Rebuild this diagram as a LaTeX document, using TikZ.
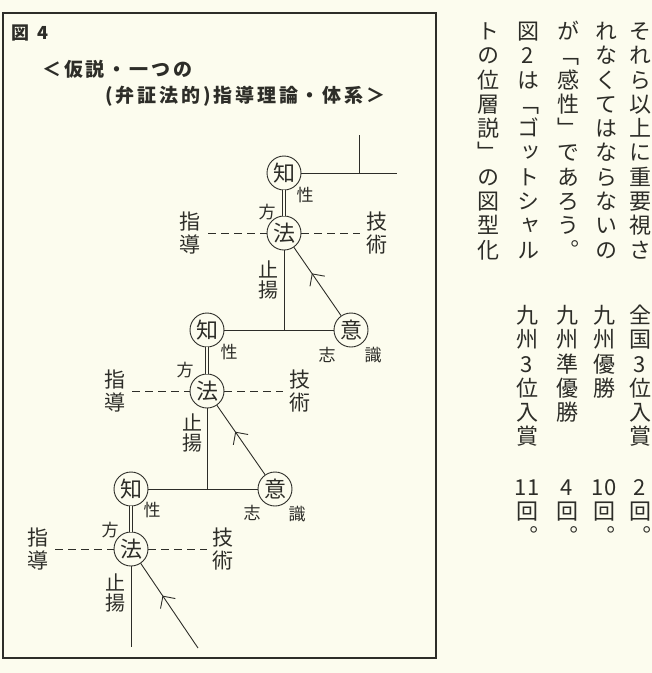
\documentclass[tikz,border=0pt]{standalone}
\usepackage{fontspec}
\usetikzlibrary{arrows.meta,decorations.markings}
\newfontfamily\jp{Noto Sans CJK JP}
\newfontfamily\tatefont[RawFeature=+vert]{Noto Sans CJK JP}
\definecolor{paper}{RGB}{252,252,238}
\definecolor{ink}{RGB}{45,45,40}
\def\tatecol(#1)(#2,#3)#4{\foreach \ch [count=\k] in {#4} \node[tatechar] (#1-\k) at (#2,{#3+(\k-1)*24.3}) {\ch};}

\begin{document}
\begin{tikzpicture}[x=1pt,y=-1pt,
	chibox/.style={circle,draw=ink,line width=0.9pt,minimum size=34pt,inner sep=0pt,text=ink,font=\jp\fontsize{22}{22}\selectfont},
	lbl/.style={align=center,inner sep=0pt,text=ink,font=\jp\fontsize{21}{23}\selectfont},
	shiyo/.style={align=center,inner sep=0pt,text=ink,font=\jp\fontsize{20}{20}\selectfont},
	sm/.style={inner sep=0pt,text=ink,font=\jp\fontsize{17}{17}\selectfont},
	titletext/.style={inner sep=0pt,text=ink,font=\jp\bfseries\fontsize{19}{19}\selectfont\addfontfeatures{LetterSpace=15}},
	tatechar/.style={inner sep=0pt,text height=19.4pt,text depth=2.6pt,text=ink,font=\tatefont\fontsize{22}{22}\selectfont},
	link/.style={draw=ink,line width=0.9pt},
	kato/.style={dash pattern=on 8pt off 5pt},
	dbl/.style={double=paper,double distance=2.6pt},
	upchev/.style={postaction={decorate},decoration={markings,mark=at position 0.62 with {\arrow[ink,line width=0.9pt]{Straight Barb[length=9pt,width=18pt]}}}}]
	%%%%% START %%%%%
	\useasboundingbox (0,0) rectangle (652,673);
	\fill[paper] (0,0) rectangle (652,673);
	
	\draw[ink,line width=1.2pt] (3,13) rectangle (436,658);
	
	\node[inner sep=0pt,text=ink,font=\jp\bfseries\fontsize{18}{18}\selectfont,anchor=west] (fignum) at (11,33) {図\hspace{8pt}4};
	\node[titletext,anchor=west] (title1) at (42,69) {＜仮説・一つの};
	\node[titletext,anchor=west] (title2) at (105,96) {(弁証法的)指導理論・体系＞};
	
	% top level
	\node[chibox] (chi1) at (284,173) {知};
	\node[chibox] (hou1) at (284,233) {法};
	\coordinate (top1) at (397,173);
	\coordinate (stem1) at (359,135);
	\coordinate (stem1b) at (359,173);
	\draw[link] (chi1) -- (top1);
	\draw[link] (stem1) -- (stem1b);
	\draw[link,dbl] (chi1) -- (hou1);
	\node[sm] (sei1) at (305,195) {性};
	\node[sm] (kata1) at (267,212) {方};
	\node[lbl] (shido1) at (190,233) {指\\導};
	\node[lbl] (giju1) at (377,233) {技\\術};
	\draw[link,kato,shorten <=7.5pt] (shido1) -- (hou1);
	\draw[link,kato,shorten >=6.5pt] (hou1) -- (giju1);
	\node[shiyo] (shiyo1) at (268,280) {止\\揚};
	\coordinate (j1) at (284,330);
	\draw[link] (hou1) -- (j1);
	
	% middle level
	\node[chibox] (chi2) at (207,330) {知};
	\node[chibox] (i2) at (351,330) {意};
	\draw[link] (chi2) -- (i2);
	\draw[link,upchev] (i2) -- (hou1);
	\node[sm] (shi2) at (327,355) {志};
	\node[sm] (shiki2) at (373,355) {識};
	\node[chibox] (hou2) at (207,391) {法};
	\draw[link,dbl] (chi2) -- (hou2);
	\node[sm] (sei2) at (229,352) {性};
	\node[sm] (kata2) at (185,370) {方};
	\node[lbl] (shido2) at (115,391) {指\\導};
	\node[lbl] (giju2) at (300,391) {技\\術};
	\draw[link,kato,shorten <=6.5pt] (shido2) -- (hou2);
	\draw[link,kato,shorten >=6.5pt] (hou2) -- (giju2);
	\node[shiyo] (shiyo2) at (192,433) {止\\揚};
	\coordinate (j2) at (207,489);
	\draw[link] (hou2) -- (j2);
	
	% bottom level
	\node[chibox] (chi3) at (131,489) {知};
	\node[chibox] (i3) at (275,489) {意};
	\draw[link] (chi3) -- (i3);
	\draw[link,upchev] (i3) -- (hou2);
	\node[sm] (shi3) at (252,513) {志};
	\node[sm] (shiki3) at (297,514) {識};
	\node[chibox] (hou3) at (131,549) {法};
	\draw[link,dbl] (chi3) -- (hou3);
	\node[sm] (sei3) at (152,510) {性};
	\node[sm] (kata3) at (110,530) {方};
	\node[lbl] (shido3) at (38,549) {指\\導};
	\node[lbl] (giju3) at (223,549) {技\\術};
	\draw[link,kato,shorten <=6.5pt] (shido3) -- (hou3);
	\draw[link,kato,shorten >=5.5pt] (hou3) -- (giju3);
	\node[shiyo] (shiyo3) at (115,593) {止\\揚};
	\coordinate (end3) at (131,647);
	\coordinate (tail3) at (198,648);
	\draw[link] (hou3) -- (end3);
	\draw[link,upchev] (tail3) -- (hou3);
	
	% page text, vertical
	\tatecol(ta)(640,31){そ,れ,ら,以,上,に,重,要,視,さ}
	\tatecol(tb)(606,31){れ,な,く,て,は,な,ら,な,い,の}
	\tatecol(tc)(568,31){が,「,感,性,」,で,あ,ろ,う,。}
	\tatecol(td)(528,31){図,2,は,「,ゴ,ッ,ト,シ,ャ,ル}
	\tatecol(te)(488,31){ト,の,位,層,説,」,の,図,型,化}
	
	\tatecol(ra)(640,315){全,国,3,位,入,賞}
	\tatecol(rb)(640,487){2,回,。}
	\tatecol(sa)(604,315){九,州,優,勝}
	\tatecol(sb)(604,487){10,回,。}
	\tatecol(ua)(567,315){九,州,準,優,勝}
	\tatecol(ub)(567,487){4,回,。}
	\tatecol(va)(527,315){九,州,3,位,入,賞}
	\tatecol(vb)(527,487){11,回,。}
	%%%%% END %%%%%
\end{tikzpicture}
\end{document}
